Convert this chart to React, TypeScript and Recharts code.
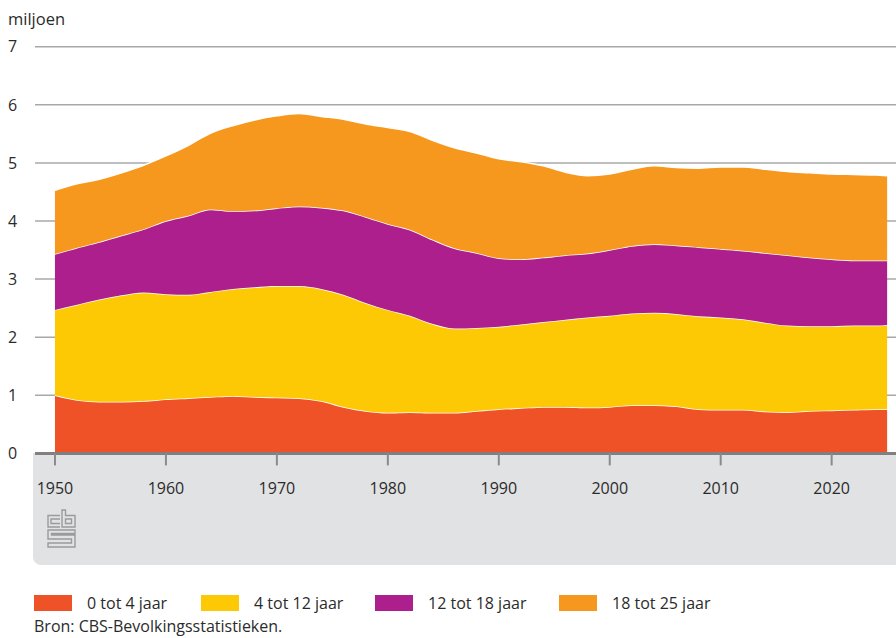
import React from 'react';
import { AreaChart, Area, XAxis, YAxis, CartesianGrid } from 'recharts';

const years = [
  1950, 1952, 1954, 1956, 1958, 1960, 1962, 1964, 1966, 1968, 1970, 1972, 1974,
  1976, 1978, 1980, 1982, 1984, 1986, 1988, 1990, 1992, 1994, 1996, 1998, 2000,
  2002, 2004, 2006, 2008, 2010, 2012, 2014, 2016, 2018, 2020, 2022, 2024, 2025,
];

// miljoen personen per leeftijdsgroep
const age0to4 = [
  1.0, 0.92, 0.89, 0.89, 0.9, 0.93, 0.95, 0.97, 0.99, 0.97, 0.96, 0.95, 0.9,
  0.8, 0.73, 0.7, 0.71, 0.7, 0.7, 0.73, 0.76, 0.78, 0.8, 0.8, 0.79, 0.8,
  0.83, 0.83, 0.81, 0.76, 0.75, 0.75, 0.72, 0.71, 0.73, 0.74, 0.75, 0.76, 0.76,
];
const age4to12 = [
  1.47, 1.64, 1.76, 1.83, 1.87, 1.81, 1.78, 1.81, 1.84, 1.89, 1.92, 1.93, 1.93,
  1.93, 1.86, 1.77, 1.66, 1.53, 1.45, 1.43, 1.42, 1.44, 1.46, 1.5, 1.55, 1.57,
  1.58, 1.59, 1.59, 1.6, 1.59, 1.56, 1.53, 1.49, 1.46, 1.45, 1.45, 1.44, 1.45,
];
const age12to18 = [
  0.96, 0.98, 0.99, 1.03, 1.09, 1.26, 1.36, 1.42, 1.34, 1.32, 1.34, 1.37, 1.4,
  1.45, 1.48, 1.48, 1.48, 1.45, 1.38, 1.29, 1.18, 1.12, 1.11, 1.11, 1.1, 1.13,
  1.16, 1.18, 1.18, 1.19, 1.18, 1.18, 1.2, 1.21, 1.18, 1.15, 1.12, 1.12, 1.11,
];
const age18to25 = [
  1.1, 1.1, 1.08, 1.08, 1.1, 1.12, 1.21, 1.31, 1.47, 1.56, 1.59, 1.6, 1.57,
  1.57, 1.6, 1.66, 1.69, 1.71, 1.73, 1.72, 1.71, 1.68, 1.58, 1.43, 1.34, 1.31,
  1.32, 1.35, 1.34, 1.36, 1.41, 1.44, 1.44, 1.44, 1.46, 1.47, 1.48, 1.47, 1.46,
];

const xTicks = [1950, 1960, 1970, 1980, 1990, 2000, 2010, 2020];
const yTicks = [0, 1, 2, 3, 4, 5, 6, 7];

const series = [
  { key: 'a', name: '0 tot 4 jaar', color: '#ee5226' },
  { key: 'b', name: '4 tot 12 jaar', color: '#fdc905' },
  { key: 'c', name: '12 tot 18 jaar', color: '#ac1f8d' },
  { key: 'd', name: '18 tot 25 jaar', color: '#f7981e' },
];

const data = years.map((year, i) => ({
  year,
  a: age0to4[i],
  b: age4to12[i],
  c: age12to18[i],
  d: age18to25[i],
}));

const font = '"Open Sans", "DejaVu Sans", sans-serif';
const textColor = '#2b2b2b';

const YTick = (props: any) => {
  const { y, payload } = props;
  return (
    <text x={8} y={y} dy="0.36em" textAnchor="start" fontSize={16} fill={textColor} fontFamily={font}>
      {payload.value}
    </text>
  );
};

function CbsLogo() {
  return (
    <svg width={32} height={42} style={{ position: 'absolute', left: 46, top: 508 }}>
      <g fill="none" stroke="#9b9b9b" strokeWidth={1.4}>
        <path d="M14 7.5 H2 V19 H14" />
        <path d="M14 11 H5 V15.5 H14" />
        <path d="M16 2 V19 H29 V7.5 H19.5 V2 Z" />
        <path d="M19.5 11 H25.5 V15.5 H19.5 Z" />
        <path d="M29 22 H2 V31 H25.5 V35 H2 V39 H29 V27 H5.5 V25.5 H29 Z" />
      </g>
    </svg>
  );
}

export default function App() {
  return (
    <div style={{ position: 'absolute', left: 0, top: 0, width: 896, height: 638, overflow: 'hidden', background: '#fff', fontFamily: font, color: textColor }}>
      <div style={{ position: 'absolute', left: 33, top: 453, width: 863, height: 112, background: '#e1e2e4', borderBottomLeftRadius: 8 }} />
      <CbsLogo />
      <div style={{ position: 'absolute', left: 8, top: 8, fontSize: 16.5, lineHeight: '22px' }}>miljoen</div>
      <div style={{ position: 'absolute', left: 0, top: 0 }}>
        <AreaChart width={896} height={500} data={data} margin={{ top: 46.7, right: 0, bottom: 0, left: 0 }}>
          <CartesianGrid horizontal vertical={false} stroke="#a8a8a8" strokeWidth={1.5} />
          {series.map((s) => (
            <Area
              key={s.key}
              type="monotone"
              dataKey={s.key}
              name={s.name}
              stackId="1"
              stroke="#ffffff"
              strokeWidth={1.5}
              fill={s.color}
              fillOpacity={1}
              dot={false}
              activeDot={false}
              isAnimationActive={false}
            />
          ))}
          <YAxis
            type="number"
            domain={[0, 7]}
            ticks={yTicks}
            width={35}
            axisLine={false}
            tickLine={false}
            tick={<YTick />}
            interval={0}
          />
          <XAxis
            dataKey="year"
            type="number"
            domain={[1948.2, 2025.8]}
            ticks={xTicks}
            interval={0}
            height={46.6}
            axisLine={{ stroke: '#808080', strokeWidth: 3 }}
            tickLine={{ stroke: '#8a8a8a', strokeWidth: 2 }}
            tickSize={12}
            tickMargin={17}
            tick={{ fontSize: 16, fill: textColor, fontFamily: font }}
          />
        </AreaChart>
      </div>
      <div style={{ position: 'absolute', left: 0, top: 590, width: 896, height: 26 }}>
        {series.map((s, i) => {
          const sx = [34, 201, 375, 559][i];
          return (
            <React.Fragment key={s.key}>
              <div style={{ position: 'absolute', left: sx, top: 5, width: 38, height: 16, background: s.color }} />
              <div style={{ position: 'absolute', left: sx + 53, top: 1, fontSize: 16, lineHeight: '24px', whiteSpace: 'nowrap' }}>{s.name}</div>
            </React.Fragment>
          );
        })}
      </div>
      <div style={{ position: 'absolute', left: 34, top: 616, fontSize: 16, lineHeight: '20px', whiteSpace: 'nowrap' }}>
        Bron: CBS-Bevolkingsstatistieken.
      </div>
    </div>
  );
}
